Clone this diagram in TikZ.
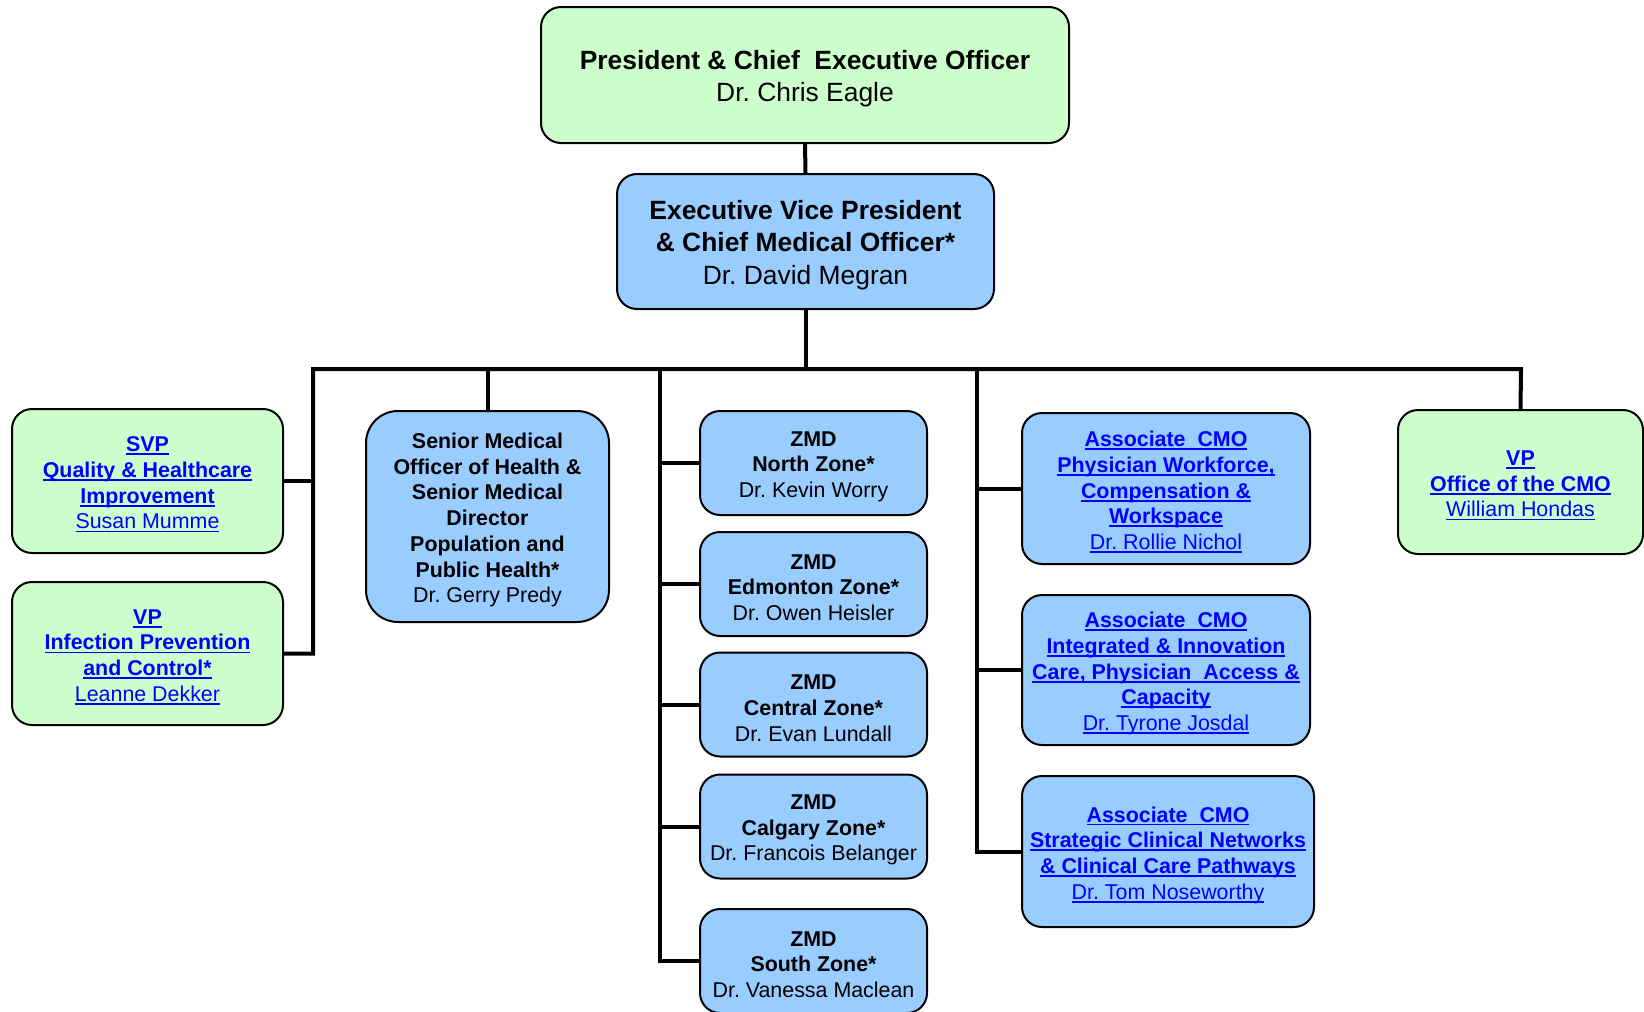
\documentclass[tikz,border=0pt]{standalone}
\usepackage{fontspec}
\setmainfont{Liberation Sans}
\frenchspacing
\newcommand\myul[1]{\setbox0\hbox{#1}\rlap{\rule[-3.4pt]{\wd0}{1.8pt}}\box0}
\definecolor{boxgreen}{RGB}{204,255,204}
\definecolor{boxblue}{RGB}{153,204,255}
\definecolor{linkblue}{RGB}{0,0,255}
\tikzset{
  base/.style={draw=black, line width=2pt, rounded corners=20pt, inner sep=0pt, anchor=center},
  gbox/.style={base, fill=boxgreen},
  bbox/.style={base, fill=boxblue},
  txt/.style={inner sep=0pt, align=center, anchor=center},
  big/.style={txt, font=\fontsize{26.4}{32.5}\selectfont},
  small/.style={txt, font=\fontsize{21.4}{25.7}\selectfont},
  link/.style={text=linkblue},
  conn/.style={line width=4pt}
}
% box node + text node (text set slightly low, as in the reference)
\newcommand\orgbox[8]{%
  \node[#1, minimum width=#5pt, minimum height=#6pt] (#2) at (#3,#4) {};
  \node[#7] (#2T) at ([yshift=-3.6pt]#2.center) {#8};
}
\begin{document}
\begin{tikzpicture}[x=1pt,y=-1pt]
\useasboundingbox (0,0) rectangle (1644,1012);
% top
\orgbox{gbox}{ceo}{805}{75}{528}{136}{big}
  {\textbf{President \& Chief~ Executive Officer}\\Dr. Chris Eagle}
\orgbox{bbox}{evp}{805.5}{241.5}{377}{135}{big}
  {\textbf{Executive Vice President}\\\textbf{\& Chief Medical Officer*}\\Dr. David Megran}
% left
\orgbox{gbox}{svp}{147.5}{481}{271}{144}{small,link}
  {\textbf{\myul{SVP}}\\\textbf{\myul{Quality \& Healthcare}}\\\textbf{\myul{Improvement}}\\\myul{Susan Mumme}}
\orgbox{gbox}{vpipc}{147.5}{653.5}{271}{143}{small,link}
  {\textbf{\myul{VP}}\\\textbf{\myul{Infection Prevention}}\\\textbf{\myul{and Control*}}\\\myul{Leanne Dekker}}
\orgbox{bbox,rounded corners=32pt}{senior}{487.5}{516.5}{243}{211}{small}
  {\textbf{Senior Medical}\\\textbf{Officer of Health \&}\\\textbf{Senior Medical}\\\textbf{Director}\\\textbf{Population and}\\\textbf{Public Health*}\\Dr. Gerry Predy}
% zones
\orgbox{bbox}{north}{813.5}{463}{227}{104}{small}
  {\textbf{ZMD}\\\textbf{North Zone*}\\Dr. Kevin Worry}
\orgbox{bbox}{edm}{813.5}{584}{227}{104}{small}
  {\textbf{ZMD}\\\textbf{Edmonton Zone*}\\Dr. Owen Heisler}
\orgbox{bbox}{central}{813.5}{704.5}{227}{104}{small}
  {\textbf{ZMD}\\\textbf{Central Zone*}\\Dr. Evan Lundall}
\orgbox{bbox}{calgary}{813.5}{826.5}{227}{104}{small}
  {\textbf{ZMD}\\\textbf{Calgary Zone*}\\Dr. Francois Belanger}
\orgbox{bbox}{south}{813.5}{961}{227}{104}{small}
  {\textbf{ZMD}\\\textbf{South Zone*}\\Dr. Vanessa Maclean}
% associate CMOs
\orgbox{bbox}{acmoa}{1166}{488.5}{288}{151}{small,link}
  {\textbf{\myul{Associate~ CMO}}\\\textbf{\myul{Physician Workforce,}}\\\textbf{\myul{Compensation \&}}\\\textbf{\myul{Workspace}}\\\myul{Dr. Rollie Nichol}}
\orgbox{bbox}{acmob}{1166}{670}{288}{150}{small,link}
  {\textbf{\myul{Associate~ CMO}}\\\textbf{\myul{Integrated \& Innovation}}\\\textbf{\myul{Care, Physician~ Access \&}}\\\textbf{\myul{Capacity}}\\\myul{Dr. Tyrone Josdal}}
\orgbox{bbox}{acmoc}{1168}{851.5}{292}{151}{small,link}
  {\textbf{\myul{Associate~ CMO}}\\\textbf{\myul{Strategic Clinical Networks}}\\\textbf{\myul{\& Clinical Care Pathways}}\\\myul{Dr. Tom Noseworthy}}
% VP office
\orgbox{gbox}{vpoff}{1520.5}{482}{245}{144}{small,link}
  {\textbf{\myul{VP}}\\\textbf{\myul{Office of the CMO}}\\\myul{William Hondas}}
% bus coordinates
\coordinate (bL) at (313,369);
\coordinate (bR) at (1521,369);
\coordinate (bZ) at (660,369);
\coordinate (bA) at (977,369);
% connectors
\draw[conn] (ceo.south) -- (evp.north);
\draw[conn] (evp.south) -- (evp.south |- bL);
\draw[conn] (vpipc.east) -| (bL) -- (bR) -- (vpoff.north);
\draw[conn] (svp.east) -- (svp.east -| bL);
\draw[conn] (senior.north) -- (senior.north |- bL);
\draw[conn] (bZ) |- (south.west);
\draw[conn] (north.west) -- (north.west -| bZ);
\draw[conn] (edm.west) -- (edm.west -| bZ);
\draw[conn] (central.west) -- (central.west -| bZ);
\draw[conn] (calgary.west) -- (calgary.west -| bZ);
\draw[conn] (bA) |- (acmoc.west);
\draw[conn] (acmoa.west) -- (acmoa.west -| bA);
\draw[conn] (acmob.west) -- (acmob.west -| bA);
\end{tikzpicture}
\end{document}
